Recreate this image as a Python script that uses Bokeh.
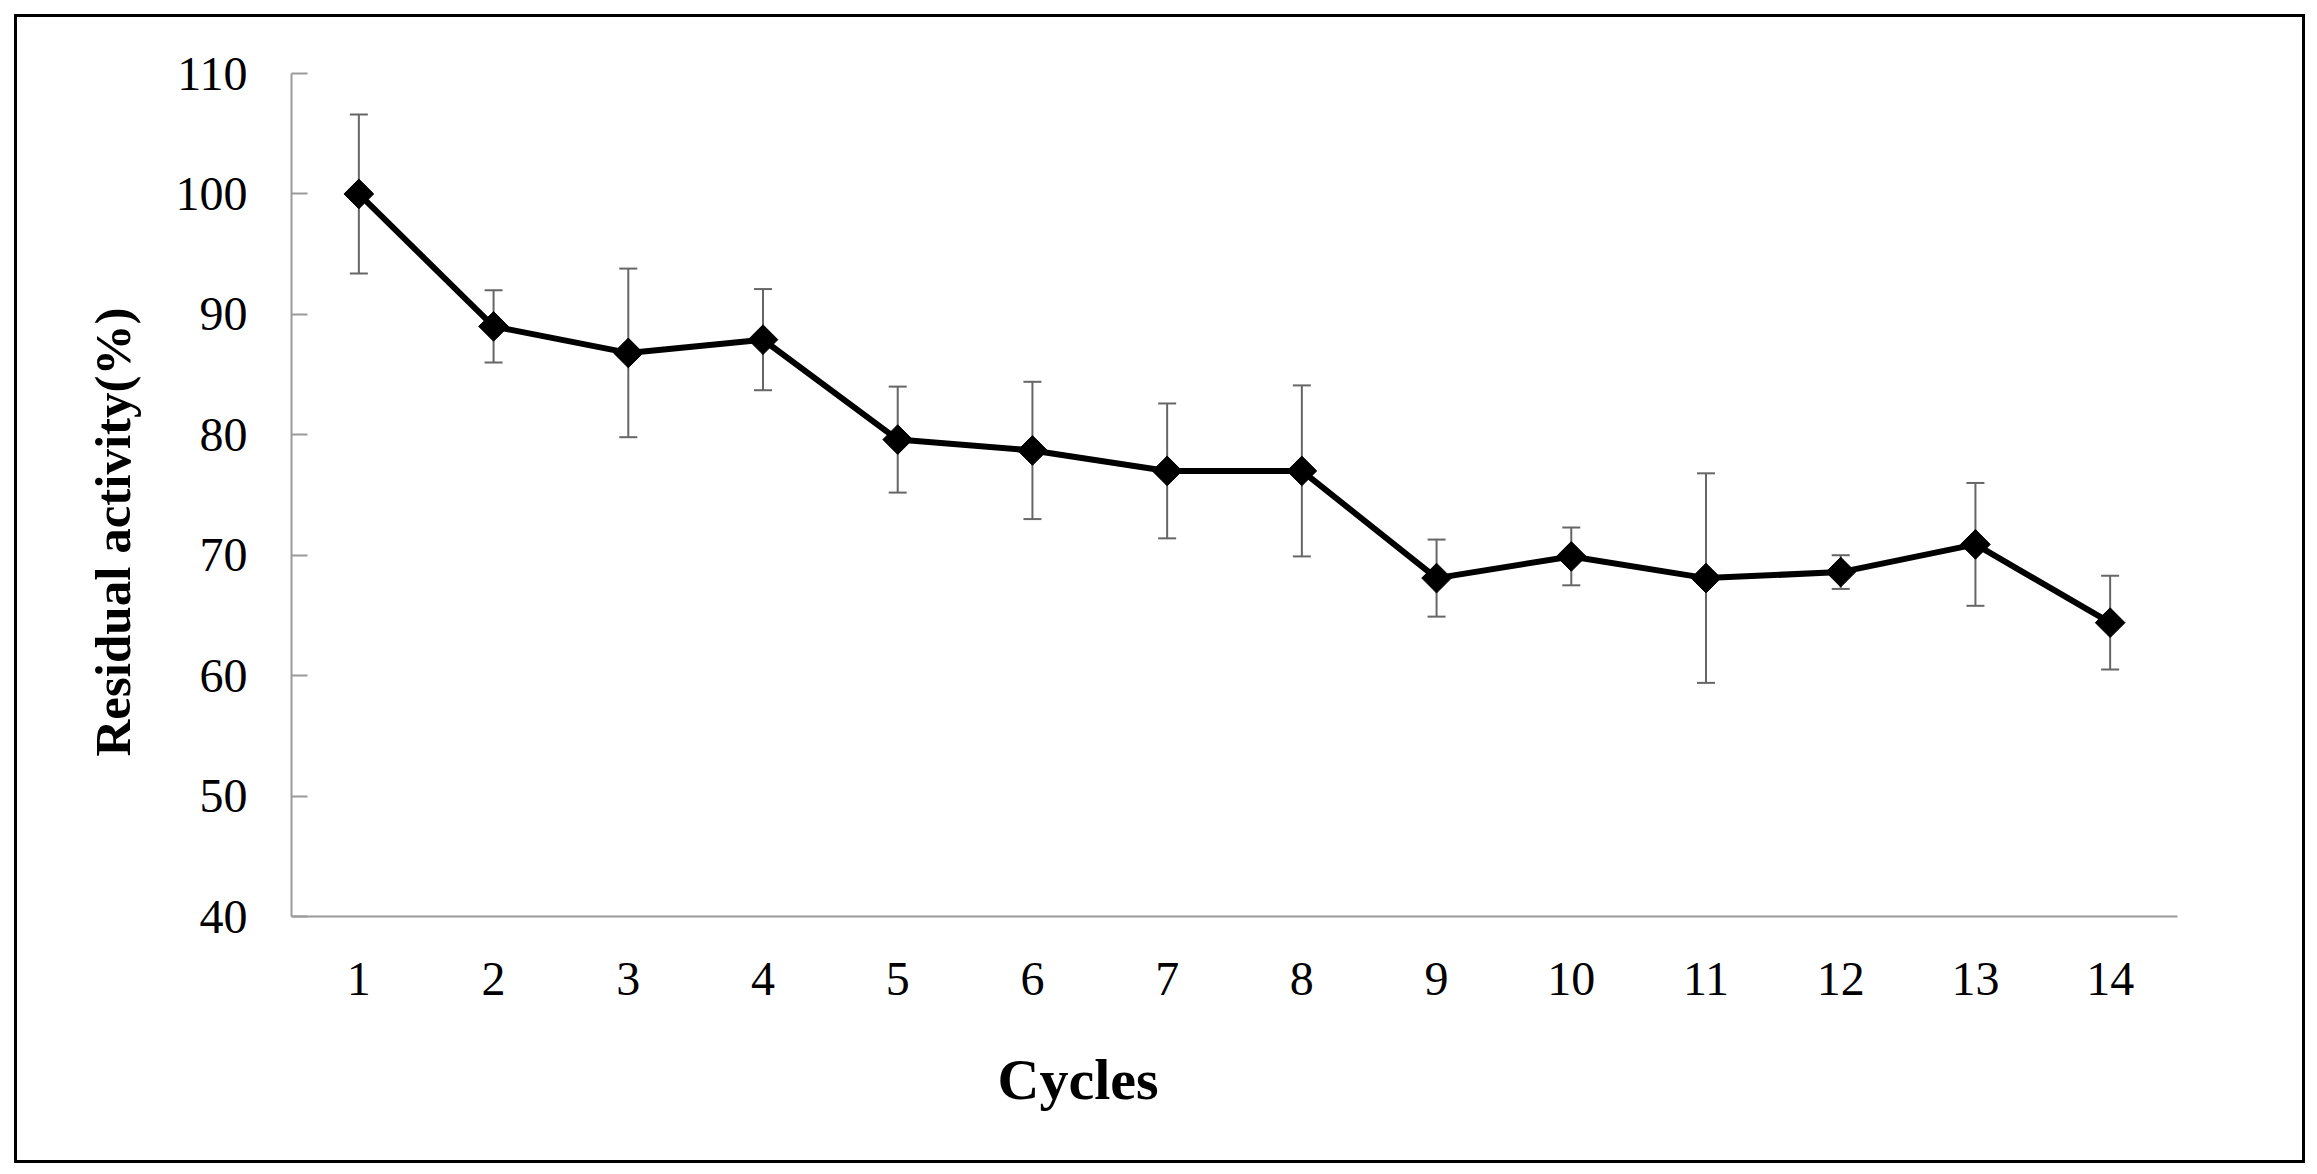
from bokeh.plotting import figure
from bokeh.models import (ColumnDataSource, Whisker, TeeHead, FixedTicker, Range1d,
                          Title, InlineStyleSheet)
from bokeh.embed import file_html
from bokeh.resources import INLINE
import math

cycles = [1, 2, 3, 4, 5, 6, 7, 8, 9, 10, 11, 12, 13, 14]
activity = [100.0, 89.0, 86.8, 87.9, 79.6, 78.7, 77.0, 77.0, 68.1, 69.9, 68.1, 68.6, 70.9, 64.4]
error = [6.6, 3.0, 7.0, 4.2, 4.4, 5.7, 5.6, 7.1, 3.2, 2.4, 8.7, 1.4, 5.1, 3.9]
y_ticks = [40, 50, 60, 70, 80, 90, 100, 110]

src = ColumnDataSource(dict(
    x=cycles, y=activity,
    upper=[a + e for a, e in zip(activity, error)],
    lower=[a - e for a, e in zip(activity, error)],
))

W, H = 2301, 1158
p = figure(width=W, height=H, output_backend="svg", toolbar_location=None,
           x_range=Range1d(0.5, 14.5), y_range=Range1d(40, 110),
           min_border_left=291, min_border_right=W - 2177,
           min_border_top=73, min_border_bottom=H - 918)
p.outline_line_color = None
p.xgrid.visible = False
p.ygrid.visible = False
p.background_fill_color = "white"
p.border_fill_color = "white"

whisk = Whisker(source=src, base="x", upper="upper", lower="lower",
                line_color="#666666", line_width=2, level="underlay",
                upper_head=TeeHead(size=18, line_color="#666666", line_width=2),
                lower_head=TeeHead(size=18, line_color="#666666", line_width=2))
p.add_layout(whisk)

p.line("x", "y", source=src, line_color="black", line_width=6)
p.scatter("x", "y", source=src, marker="square", size=21, angle=math.pi / 4,
          fill_color="black", line_color="black")

serif = "Liberation Serif"

p.xaxis.ticker = FixedTicker(ticks=cycles)
p.yaxis.ticker = FixedTicker(ticks=y_ticks)
for ax in (p.xaxis[0], p.yaxis[0]):
    ax.axis_line_color = "#9a9a9a"
    ax.axis_line_width = 2
    ax.major_tick_line_color = "#9a9a9a"
    ax.major_tick_line_width = 2
    ax.minor_tick_line_color = None
    ax.major_label_text_font = serif
    ax.major_label_text_font_size = "48px"
    ax.major_label_text_color = "black"

p.xaxis.major_tick_line_color = None
p.xaxis.major_label_standoff = 40

p.yaxis.major_tick_in = 16
p.yaxis.major_tick_out = 0
p.yaxis.major_label_standoff = 44

x_title = Title(text="Cycles", align="left", offset=706, standoff=94,
                text_font=serif, text_font_style="bold", text_font_size="58px",
                text_color="black")
y_title = Title(text="Residual activity(%)", align="left", offset=160, standoff=64,
                text_font=serif, text_font_style="bold", text_font_size="51px",
                text_color="black")
p.add_layout(x_title, "below")
p.add_layout(y_title, "left")

p.stylesheets = [InlineStyleSheet(css="""
:host { position: relative; }
:host::after {
  content: "";
  position: absolute;
  left: 14px; top: 14px; right: -4px; bottom: -5px;
  border: 3px solid #000;
  box-sizing: border-box;
  pointer-events: none;
  z-index: 100;
}
""")]

open("out.html", "w").write(file_html(p, INLINE))
